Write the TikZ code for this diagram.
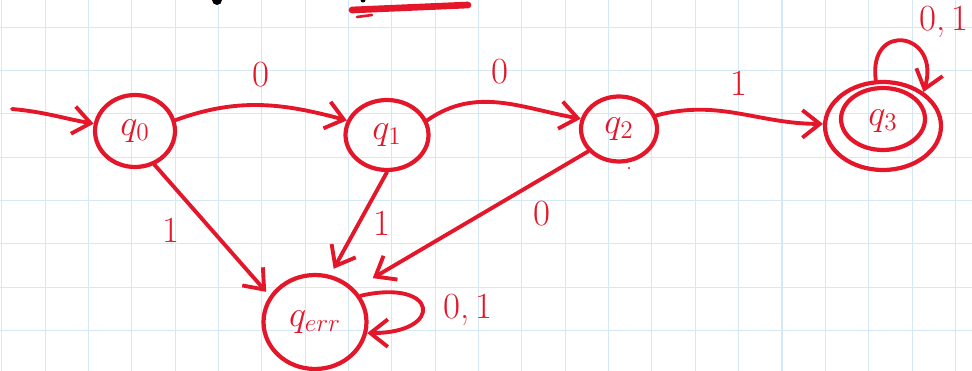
\documentclass[tikz,border=0pt]{standalone}
\usetikzlibrary{arrows.meta,shapes.geometric}
\definecolor{ink}{RGB}{228,22,42}
\definecolor{gridblue}{RGB}{212,232,248}
\tikzset{
  state/.style={draw=ink, ellipse, line width=2.4pt, inner sep=0pt, text=ink, font=\fontsize{22}{26}\selectfont},
  edge/.style={draw=ink, line width=2.2pt, line cap=round, -{Straight Barb[length=3.5mm,width=5.5mm,line width=2.2pt]}},
  sym/.style={text=ink, font=\fontsize{21}{25}\selectfont}
}
\begin{document}
\begin{tikzpicture}[x=0.02cm,y=0.02cm]
        \useasboundingbox (0,0) rectangle (972,371);
        % Сетка
        \foreach \i in {0,...,22}
          \draw[gridblue, line width=0.6pt] ({1.7+43.35*\i},0) -- ({1.7+43.35*\i},371);
        \foreach \j in {0,...,8}
          \draw[gridblue, line width=0.6pt] (0,{-3+43.35*\j}) -- (972,{-3+43.35*\j});
        
        % Обрывки сверху
        \fill (217,371) circle (5);
        \fill (363,371) circle (2.5);
        \draw[ink, line width=3.8pt, line cap=round] (352,361) -- (468,366);
        \draw[ink, line width=1.5pt, line cap=round] (357,354) -- (372,356);
        
        % Состояния
        \node[state, minimum width=1.6cm, minimum height=1.44cm] (q0) at (135,240) {$q_0$};
        \node[state, minimum width=1.66cm, minimum height=1.4cm] (q1) at (387,236) {$q_1$};
        \node[state, minimum width=1.52cm, minimum height=1.3cm] (q2) at (619,242) {$q_2$};
        \node[state, minimum width=2.32cm, minimum height=1.76cm] (q3) at (883,245) {};
        \draw[ink, line width=2.4pt] (883,252) ellipse [x radius=0.84cm, y radius=0.62cm];
        \node[state, draw=none] at (883,250) {$q_3$};
        \node[state, minimum width=2.06cm, minimum height=1.88cm] (qerr) at (315,49) {$q_{err}$};
        \fill[ink] (629,203) circle (1.2);
        
        % Начало
        \coordinate (start) at (12,262);
        \draw[edge] (start) to[out=-5,in=170] (q0);
        
        % Переходы
        \draw[edge] (q0.15) to[out=20,in=165] node[sym, above=6pt] {0} (q1.160);
        \draw[edge] (q1.20) to[out=35,in=170] node[sym, above=6pt] {0} (q2.165);
        \draw[edge] (q2.20) to[out=15,in=180] node[sym, above=6pt] {1} (q3.178);
        \draw[edge, shorten >=3pt] (q0.-60) -- node[sym, left=14pt] {1} (qerr.150);
        \draw[edge, shorten >=4pt] (q1.-90) -- node[sym, right=4pt] {1} (qerr.72);
        \draw[edge, shorten >=12pt] (q2.-144) -- node[sym, pos=0.2, below=8pt] {0} (qerr.40);
        
        % Петли
        \draw[edge] (q3.99) .. controls +(-8,60) and +(18,60) .. (q3.40);
        \node[sym] at (944,349) {0,\,1};
        \draw[edge] (qerr.30) .. controls +(78,18) and +(78,0) .. (qerr.-12);
        \node[sym] at (468,61) {0,\,1};
    \end{tikzpicture}
\end{document}
